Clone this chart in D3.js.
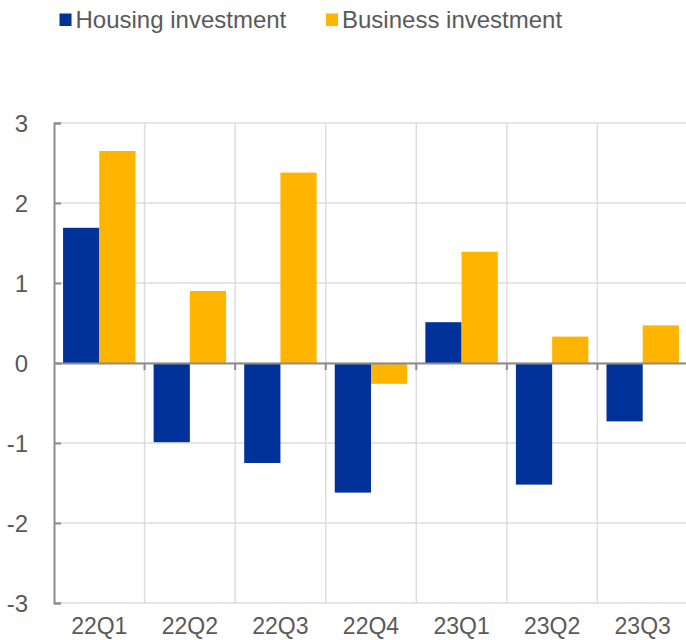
<!DOCTYPE html>
<html>
<head>
<meta charset="utf-8">
<script src="https://cdn.jsdelivr.net/npm/d3@7"></script>
<style>
  body { margin: 0; background: #fff; }
  svg { display: block; font-family: "Liberation Sans", Arial, sans-serif; }
</style>
</head>
<body>
<svg id="chart"></svg>
<script>
var width = 686;
var height = 640;

// data
var quarters = ["22Q1", "22Q2", "22Q3", "22Q4", "23Q1", "23Q2", "23Q3"];
var seriesNames = ["Housing investment", "Business investment"];
var housing = [1.69, -0.99, -1.25, -1.62, 0.51, -1.52, -0.73];
var business = [2.65, 0.9, 2.38, -0.26, 1.39, 0.33, 0.47];
var yTicks = [-3, -2, -1, 0, 1, 2, 3];
var colors = ["#003299", "#ffb400"];

// plot box (note: "top" is taken by window.top, hence the prefixes)
var plotLeft = 54, plotRight = 688, plotTop = 123, plotBottom = 603;
var textColor = "#595959";
var axisColor = "#8c8c8c";
var gridColor = "#dcdcdc";

var rows = quarters.map((q, i) => ({ q: q, values: [housing[i], business[i]] }));

var svg = d3.select("#chart").attr("width", width).attr("height", height);

var xScale = d3.scaleBand().domain(quarters).range([plotLeft, plotRight]);
var xInner = d3
  .scaleBand()
  .domain(seriesNames)
  .range([0, xScale.bandwidth()])
  .paddingOuter(0.25);
var yScale = d3.scaleLinear().domain([-3, 3]).range([plotBottom, plotTop]);

// horizontal grid
svg
  .append("g")
  .selectAll("line")
  .data(yTicks)
  .enter()
  .append("line")
  .attr("x1", plotLeft)
  .attr("x2", plotRight)
  .attr("y1", (d) => yScale(d))
  .attr("y2", (d) => yScale(d))
  .attr("stroke", gridColor)
  .attr("stroke-width", 1.5);

// vertical grid at the band edges
svg
  .append("g")
  .selectAll("line")
  .data(quarters.slice(1))
  .enter()
  .append("line")
  .attr("x1", (d) => xScale(d))
  .attr("x2", (d) => xScale(d))
  .attr("y1", plotTop)
  .attr("y2", plotBottom)
  .attr("stroke", gridColor)
  .attr("stroke-width", 1.5);

// bars
svg
  .append("g")
  .selectAll("g")
  .data(rows)
  .enter()
  .append("g")
  .attr("transform", (d) => `translate(${xScale(d.q)},0)`)
  .selectAll("rect")
  .data((d) => d.values.map((v, i) => ({ name: seriesNames[i], v: v, i: i })))
  .enter()
  .append("rect")
  .attr("x", (d) => xInner(d.name))
  .attr("width", xInner.bandwidth())
  .attr("y", (d) => yScale(Math.max(0, d.v)))
  .attr("height", (d) => Math.abs(yScale(d.v) - yScale(0)))
  .attr("fill", (d) => colors[d.i]);

// y axis: ticks point inward, plain hyphen for negatives like the original
var yAxis = d3
  .axisLeft(yScale)
  .tickValues(yTicks)
  .tickSize(-7)
  .tickPadding(26)
  .tickFormat((d) => String(d));
var gy = svg.append("g").attr("transform", `translate(${plotLeft},0)`).call(yAxis);
gy.select(".domain").attr("stroke", axisColor).attr("stroke-width", 2);
gy.selectAll(".tick line").attr("stroke", axisColor).attr("stroke-width", 2);
gy.selectAll(".tick text")
  .attr("fill", textColor)
  .style("font-size", "24px")
  .attr("dy", "0.35em");

// zero line with small ticks below it
var xAxis = d3.axisBottom(xScale).tickSize(0).tickFormat("");
var gx = svg.append("g").attr("transform", `translate(0,${yScale(0)})`).call(xAxis);
gx.select(".domain").attr("stroke", axisColor).attr("stroke-width", 2);
gx.selectAll(".tick").remove();
gx.selectAll("line.edge")
  .data(quarters.slice(1))
  .enter()
  .append("line")
  .attr("class", "edge")
  .attr("x1", (d) => xScale(d))
  .attr("x2", (d) => xScale(d))
  .attr("y1", 0)
  .attr("y2", 7)
  .attr("stroke", axisColor)
  .attr("stroke-width", 2);

// category labels at the bottom
svg
  .append("g")
  .selectAll("text")
  .data(quarters)
  .enter()
  .append("text")
  .attr("x", (d) => xScale(d) + xScale.bandwidth() / 2)
  .attr("y", 634)
  .attr("text-anchor", "middle")
  .attr("fill", textColor)
  .style("font-size", "23px")
  .text((d) => d);

// legend
var legendX = [59.5, 326];
var legend = svg
  .append("g")
  .selectAll("g")
  .data(seriesNames)
  .enter()
  .append("g")
  .attr("transform", (d, i) => `translate(${legendX[i]},0)`);
legend
  .append("rect")
  .attr("y", 13.5)
  .attr("width", 12)
  .attr("height", 12.5)
  .attr("fill", (d, i) => colors[i]);
legend
  .append("text")
  .attr("x", 16)
  .attr("y", 27.5)
  .attr("fill", textColor)
  .style("font-size", "24px")
  .text((d) => d);
</script>
</body>
</html>
